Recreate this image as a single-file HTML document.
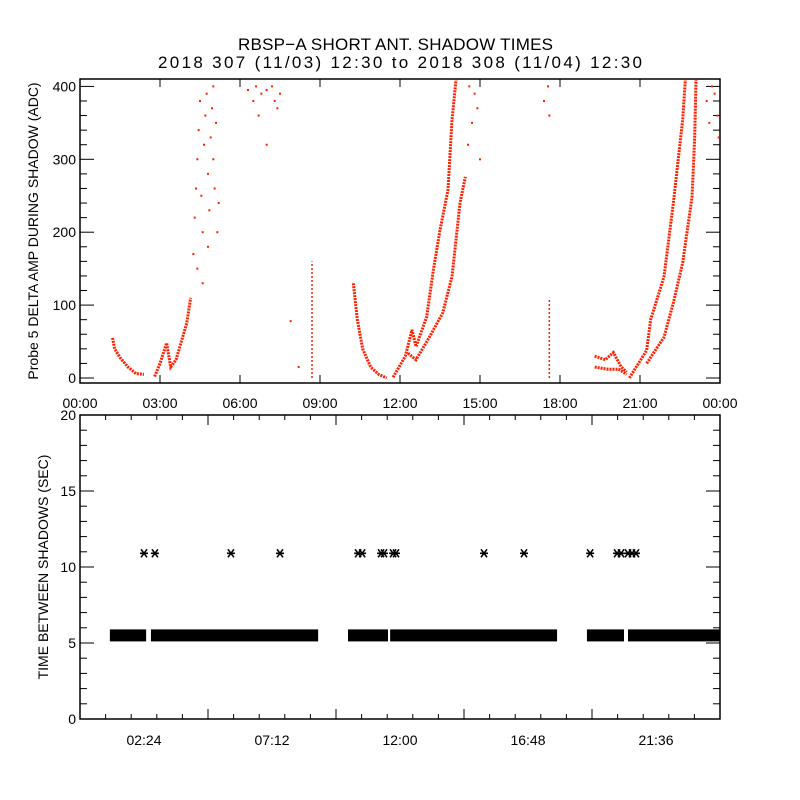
<!DOCTYPE html>
<html><head><meta charset="utf-8"><style>
body{margin:0;background:#fff}
svg{display:block;font-family:"Liberation Sans",sans-serif}
text{fill:#000}
</style></head><body>
<svg id="chart" width="800" height="800" viewBox="0 0 800 800" xmlns="http://www.w3.org/2000/svg">
<rect width="800" height="800" fill="#fff"/>
<text x="395.5" y="50" font-size="17" text-anchor="middle" textLength="315" lengthAdjust="spacing">RBSP−A SHORT ANT. SHADOW TIMES</text>
<text x="400" y="68" font-size="17" text-anchor="middle" textLength="484" lengthAdjust="spacing">2018 307 (11/03) 12:30 to 2018 308 (11/04) 12:30</text>
<g id="topg"></g><g id="botg"></g>
</svg>
<script>
// ---- data (hours, value) ----
const topXTicks = ["00:00","03:00","06:00","09:00","12:00","15:00","18:00","21:00","00:00"];
const topYTicks = [0,100,200,300,400];
const botXTicks = ["02:24","07:12","12:00","16:48","21:36"];
const botYTicks = [0,5,10,15,20];
const traceA = [[1.22,55],[1.3,40],[1.5,28],[1.8,15],[2.1,6],[2.4,5]];
const traceB = [[2.8,2],[3.0,20],[3.25,48],[3.4,15],[3.6,25],[3.8,50],[4.0,75],[4.15,110]];
const traceC = [[10.25,130],[10.4,80],[10.6,40],[10.9,15],[11.2,5],[11.5,0]];
const traceDUp = [[11.74,1],[12.2,30],[12.45,66],[12.6,43],[13.0,84],[13.25,148],[13.5,203],[13.8,258],[13.95,354],[14.1,409]];
const traceDLo = [[12.3,34],[12.6,25],[13.1,56],[13.6,89],[13.95,139],[14.25,240],[14.45,276]];
const traceEUp = [[19.3,30],[19.7,25],[20.0,35],[20.3,15],[20.5,8]];
const traceELo = [[19.3,15],[19.8,12],[20.2,12],[20.5,5]];
const traceFUp = [[20.6,0],[21.25,38],[21.4,80],[21.9,139],[22.25,240],[22.6,354],[22.7,409]];
const traceFLo = [[21.25,20],[21.9,56],[22.25,103],[22.6,158],[22.95,248],[23.05,330],[23.1,409]];
const spikes = [[8.7,0,160],[17.6,0,110]];
const scatter = [[4.25,170],[4.3,220],[4.35,260],[4.4,300],[4.45,340],[4.5,380],[4.55,250],[4.6,200],[4.65,320],[4.7,360],[4.75,390],[4.8,280],[4.85,230],[4.9,330],[4.95,370],[5.0,300],[5.05,260],[5.1,350],[5.15,200],[5.2,240],[4.4,150],[4.6,130],[4.8,180],[5.0,400],[6.3,395],[6.5,380],[6.6,400],[6.8,390],[7.0,395],[7.2,400],[7.3,380],[7.5,390],[7.4,370],[6.7,360],[7.0,320],[7.9,78],[8.2,15],[14.6,400],[14.7,350],[14.8,390],[14.9,370],[14.55,320],[15.0,300],[17.4,380],[17.55,400],[17.6,360],[23.5,380],[23.7,400],[23.9,360],[23.8,390],[23.95,330],[23.6,350]];
const bars = [[1.12,2.48],[2.66,8.93],[10.05,11.55],[11.63,17.89],[19.01,20.4],[20.55,24]];
const barValue = 5.5;
const starValue = 10.9;
const stars = [2.4,2.81,5.66,7.5,10.43,10.58,11.29,11.4,11.74,11.85,15.15,16.65,19.13,20.14,20.29,20.55,20.7,20.85];

const NS="http://www.w3.org/2000/svg";
function mk(p,t,a){const e=document.createElementNS(NS,t);for(const k in a)e.setAttribute(k,a[k]);p.appendChild(e);return e;}
const L=80,R=720;
const X=h=>L+h*(R-L)/24;
const TT=79,TB=383, Y1=v=>378-v*0.729;
const BT=415,BB=719, Y2=v=>BB-v*(BB-BT)/20;
const topG=document.getElementById('topg'), botG=document.getElementById('botg');

// top axes
let f=mk(topG,'rect',{x:L,y:TT,width:R-L,height:TB-TT,fill:'none',stroke:'#000','stroke-width':1.5});


topXTicks.forEach((t,i)=>{const x=X(i*3);
 mk(topG,'line',{x1:x,x2:x,y1:TB,y2:TB-8,stroke:'#000'});mk(topG,'line',{x1:x,x2:x,y1:TT,y2:TT+8,stroke:'#000'});
 const e=mk(topG,'text',{x:x,y:TB+25,'font-size':14,'text-anchor':'middle'});e.textContent=t;
 
 });
for(let v=0;v<=400;v+=20){const y=Y1(v),w=v%100==0?14:7;
 mk(topG,'line',{x1:L,x2:L+w,y1:y,y2:y,stroke:'#000'});mk(topG,'line',{x1:R,x2:R-w,y1:y,y2:y,stroke:'#000'});}
topYTicks.forEach(v=>{const e=mk(topG,'text',{x:L-4,y:Y1(v)+5,'font-size':14,'text-anchor':'end'});e.textContent=v;
 
 });
let yt=mk(topG,'text',{x:38,y:231,'font-size':14,'text-anchor':'middle',transform:'rotate(-90 38 231)'});
yt.textContent='Probe 5 DELTA AMP DURING SHADOW (ADC)';


const clip=mk(topG,'clipPath',{id:'c1'});mk(clip,'rect',{x:L,y:TT,width:R-L,height:TB-TT});
const tg=mk(topG,'g',{'clip-path':'url(#c1)'});
[traceA,traceB,traceC,traceDUp,traceDLo,traceEUp,traceELo,traceFUp,traceFLo].forEach(tr=>{
 const p=mk(tg,'polyline',{points:tr.map(d=>X(d[0])+','+Y1(d[1])).join(' '),fill:'none',stroke:'#ff2000','stroke-width':3,'stroke-dasharray':'2 1'});
 
 });
spikes.forEach(s=>{const l=mk(tg,'line',{x1:X(s[0]),x2:X(s[0]),y1:Y1(s[1]),y2:Y1(s[2]),stroke:'#ff2000','stroke-width':1.5,'stroke-dasharray':'2 2'});
 
 });
scatter.forEach(d=>{const r=mk(tg,'rect',{x:X(d[0])-1,y:Y1(d[1])-1,width:2,height:2,fill:'#ff2000'});
 
 });

// bottom axes
f=mk(botG,'rect',{x:L,y:BT,width:R-L,height:BB-BT,fill:'none',stroke:'#000','stroke-width':1.5});


for(let i=0;i<=25;i++){const x=X(i*0.96),big=i%5==0&&i>0&&i<25,w=big?10:5;
 mk(botG,'line',{x1:x,x2:x,y1:BB,y2:BB-w,stroke:'#000'});mk(botG,'line',{x1:x,x2:x,y1:BT,y2:BT+w,stroke:'#000'});}
botXTicks.forEach((t,i)=>{const e=mk(botG,'text',{x:X(2.4+i*4.8),y:BB+26,'font-size':14,'text-anchor':'middle'});
 e.textContent=t;
 
 });
for(let v=0;v<=20;v+=1){const y=Y2(v),w=v%5==0?14:7;
 mk(botG,'line',{x1:L,x2:L+w,y1:y,y2:y,stroke:'#000'});mk(botG,'line',{x1:R,x2:R-w,y1:y,y2:y,stroke:'#000'});}
botYTicks.forEach(v=>{const e=mk(botG,'text',{x:L-4,y:Y2(v)+5,'font-size':14,'text-anchor':'end'});e.textContent=v;
 
 });
yt=mk(botG,'text',{x:48,y:567,'font-size':14,'text-anchor':'middle',transform:'rotate(-90 48 567)'});
yt.textContent='TIME BETWEEN SHADOWS (SEC)';


bars.forEach(b=>{const r=mk(botG,'rect',{x:X(b[0]),y:Y2(barValue)-6,width:X(b[1])-X(b[0]),height:12,fill:'#000'});
 
 });
stars.forEach(h=>{const cx=X(h),cy=Y2(starValue);
 const d=`M${cx-4},${cy}H${cx+4}M${cx-3},${cy-4}L${cx+3},${cy+4}M${cx+3},${cy-4}L${cx-3},${cy+4}`;
 const e=mk(botG,'path',{d:d,stroke:'#000','stroke-width':1.6,fill:'none'});
 
 });
</script>
</body></html>
